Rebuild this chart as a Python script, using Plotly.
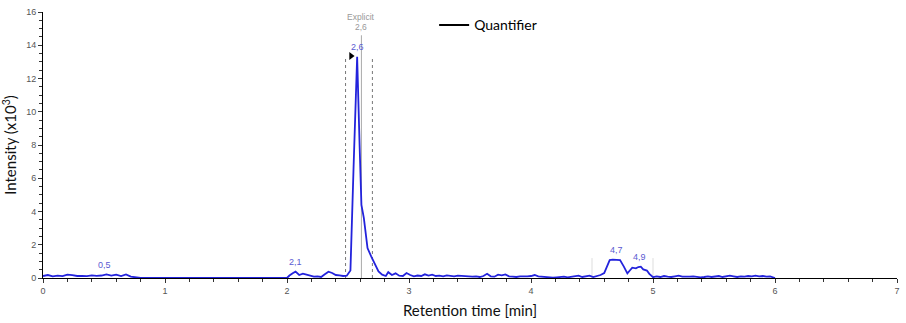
import numpy as np
import plotly.graph_objects as go

# Chromatogram trace (retention time in min, intensity in x10^3)
rt = [0.00, 0.04, 0.08, 0.12, 0.16, 0.20, 0.24, 0.28, 0.32, 0.36, 0.40, 0.44, 0.48, 0.52,
      0.56, 0.60, 0.64, 0.68, 0.72, 0.76, 0.80, 2.00, 2.02, 2.05, 2.07, 2.10, 2.13, 2.16,
      2.19, 2.22, 2.25, 2.28, 2.31, 2.34, 2.37, 2.40, 2.43, 2.46, 2.49, 2.52, 2.545, 2.575,
      2.595, 2.61, 2.63, 2.66, 2.69, 2.72, 2.75, 2.78, 2.81, 2.83, 2.86, 2.89, 2.92, 2.95,
      2.98, 3.01, 3.04, 3.07, 3.10, 3.13, 3.16, 3.19, 3.22, 3.25, 3.28, 3.31, 3.34, 3.37,
      3.40, 3.43, 3.46, 3.49, 3.52, 3.55, 3.58, 3.61, 3.64, 3.67, 3.70, 3.73, 3.76, 3.79,
      3.82, 3.85, 3.88, 3.91, 3.94, 3.97, 4.00, 4.03, 4.06, 4.09, 4.12, 4.15, 4.18, 4.21,
      4.24, 4.27, 4.30, 4.33, 4.36, 4.39, 4.42, 4.45, 4.48, 4.51, 4.54, 4.57, 4.60, 4.63,
      4.645, 4.67, 4.70, 4.73, 4.76, 4.79, 4.81, 4.83, 4.86, 4.88, 4.90, 4.92, 4.95, 4.97,
      5.00, 5.03, 5.06, 5.09, 5.12, 5.15, 5.18, 5.21, 5.24, 5.27, 5.30, 5.33, 5.36, 5.39,
      5.42, 5.45, 5.48, 5.51, 5.54, 5.57, 5.60, 5.63, 5.66, 5.69, 5.72, 5.75, 5.78, 5.81,
      5.84, 5.87, 5.90, 5.93, 5.96, 5.98, 6.00]
intensity = [0.12, 0.18, 0.10, 0.14, 0.11, 0.20, 0.17, 0.12, 0.13, 0.11, 0.16, 0.13, 0.15, 0.22,
             0.14, 0.20, 0.12, 0.21, 0.08, 0.06, 0.00, 0.00, 0.15, 0.30, 0.38, 0.18, 0.26, 0.20,
             0.12, 0.08, 0.10, 0.06, 0.22, 0.38, 0.30, 0.18, 0.16, 0.12, 0.14, 0.45, 6.50, 13.30,
             8.00, 4.40, 3.60, 1.80, 1.30, 0.80, 0.40, 0.20, 0.12, 0.35, 0.18, 0.28, 0.14, 0.12,
             0.30, 0.18, 0.10, 0.15, 0.12, 0.22, 0.14, 0.20, 0.12, 0.14, 0.10, 0.16, 0.12, 0.10,
             0.14, 0.12, 0.10, 0.12, 0.08, 0.10, 0.06, 0.12, 0.25, 0.10, 0.08, 0.20, 0.16, 0.22,
             0.10, 0.08, 0.06, 0.10, 0.08, 0.10, 0.12, 0.18, 0.10, 0.08, 0.04, 0.06, 0.02, 0.04,
             0.06, 0.08, 0.04, 0.06, 0.10, 0.14, 0.06, 0.08, 0.14, 0.06, 0.10, 0.18, 0.30, 0.80,
             1.08, 1.10, 1.10, 1.08, 0.70, 0.28, 0.45, 0.62, 0.58, 0.66, 0.68, 0.52, 0.45, 0.25,
             0.05, 0.10, 0.06, 0.12, 0.08, 0.06, 0.10, 0.14, 0.08, 0.06, 0.08, 0.10, 0.06, 0.04,
             0.06, 0.10, 0.06, 0.08, 0.12, 0.06, 0.08, 0.14, 0.10, 0.06, 0.10, 0.08, 0.12, 0.10,
             0.14, 0.10, 0.12, 0.08, 0.10, 0.05, 0.00]

# Peak labels (retention time at which each label sits)
peak_rt = [0.50, 2.07, 2.575, 4.70, 4.89]
peak_labels = ["0,5", "2,1", "2,6", "4,7", "4,9"]

# Integration window and expected retention time of the quantified peak
window_start, window_end = 2.48, 2.70
expected_rt, expected_top = 2.61, 14.6
expected_lines = ["2,6", "Explicit"]
# Secondary window markers around the late peaks
late_marks = [4.50, 5.00]
late_mark_top = 1.2

x_ticks = [0, 1, 2, 3, 4, 5, 6, 7]
y_ticks = [0, 2, 4, 6, 8, 10, 12, 14, 16]

BLUE = "#2323dc"
LABEL_BLUE = "#5a5ad2"
TICK_FONT = dict(family="Liberation Sans, Arial", size=9, color="#555555")
TITLE_FONT = dict(family="Lato, Open Sans", size=15, color="#111111")

fig = go.Figure()

fig.add_trace(go.Scatter(x=rt, y=intensity, mode="lines",
                         line=dict(color=BLUE, width=1.8), showlegend=False,
                         hoverinfo="x+y"))
fig.add_trace(go.Scatter(x=[None], y=[None], mode="lines", name="Quantifier",
                         line=dict(color="black", width=2), showlegend=True))

# Integration window (dotted) and expected RT (solid)
apex_i = int(np.argmax(intensity))
apex_x, apex_y = rt[apex_i], intensity[apex_i]
for xv in (window_start, window_end):
    fig.add_shape(type="line", x0=xv, x1=xv, y0=0, y1=apex_y, xref="x", yref="y",
                  line=dict(color="#777777", width=1, dash="dot"), layer="below")
fig.add_shape(type="line", x0=expected_rt, x1=expected_rt, y0=0, y1=expected_top,
              xref="x", yref="y", line=dict(color="#aaaaaa", width=1), layer="below")
for xv in late_marks:
    fig.add_shape(type="line", x0=xv, x1=xv, y0=0, y1=late_mark_top, xref="x", yref="y",
                  line=dict(color="#dddddd", width=1), layer="below")

# Expected-RT caption, stacked upward from the top of its line
for i, txt in enumerate(expected_lines):
    fig.add_annotation(x=expected_rt, y=expected_top, text=txt, showarrow=False,
                       yanchor="bottom", yshift=1 + 10 * i,
                       font=dict(family="Liberation Sans, Arial", size=8.5, color="#999999"))

# Arrow marker pointing to the apex
fig.add_trace(go.Scatter(x=[apex_x - 0.05], y=[apex_y + 0.05], mode="markers",
                         marker=dict(symbol="triangle-right", size=7, color="black"),
                         showlegend=False, hoverinfo="skip"))

for px, lab in zip(peak_rt, peak_labels):
    py = float(np.interp(px, rt, intensity))
    fig.add_annotation(x=px, y=py, text=lab, showarrow=False, yanchor="bottom", yshift=3,
                       font=dict(family="Liberation Sans, Arial", size=9, color=LABEL_BLUE))

axis_common = dict(showgrid=False, zeroline=False, showline=True, linecolor="black",
                   linewidth=1, ticks="outside", ticklen=4, tickcolor="#333333",
                   tickfont=TICK_FONT, automargin=False)

fig.update_xaxes(range=[0, 7], tickvals=x_ticks, ticktext=[str(v) for v in x_ticks],
                 title=dict(text="Retention time [min]", font=TITLE_FONT, standoff=10),
                 minor=dict(dtick=0.2, ticks="outside", ticklen=3, tickcolor="#333333"),
                 **axis_common)
fig.update_yaxes(range=[0, 16], tickvals=y_ticks, ticktext=[str(v) for v in y_ticks],
                 title=dict(text="Intensity (x10<sup>3</sup>)", font=TITLE_FONT, standoff=8),
                 minor=dict(dtick=0.5, ticks="outside", ticklen=3, tickcolor="#333333"),
                 **axis_common)

fig.update_layout(
    width=906, height=323,
    margin=dict(l=43, r=9, t=9, b=45),
    plot_bgcolor="white", paper_bgcolor="white",
    legend=dict(x=0.458, y=0.95, xanchor="left", yanchor="middle",
                bgcolor="rgba(0,0,0,0)", font=dict(family="Lato, Open Sans", size=14,
                                                     color="black")),
)

fig.write_html("out.html")
